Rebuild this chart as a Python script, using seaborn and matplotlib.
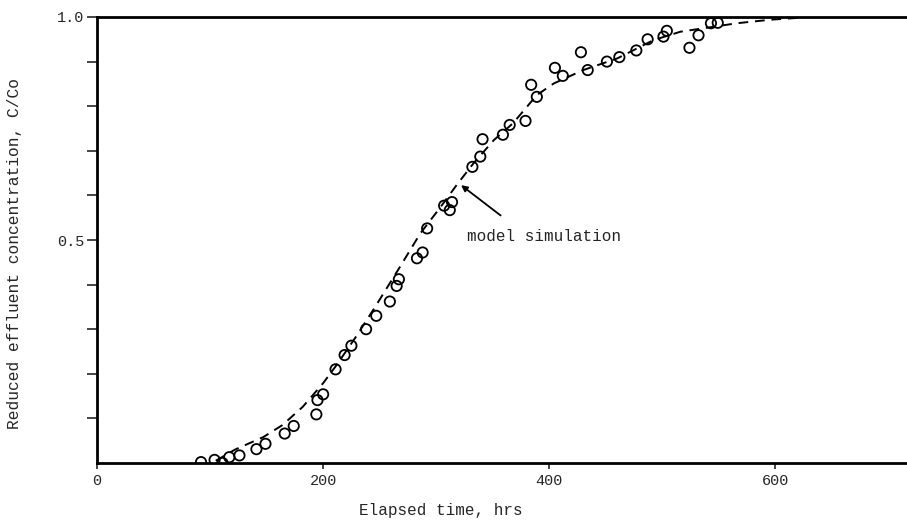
import matplotlib
matplotlib.use("Agg")
import matplotlib.pyplot as plt
import seaborn as sns
import pandas as pd

# observed data (hrs, C/Co)
obs_time = [92, 104, 111, 117, 126, 141, 149, 166, 174, 194, 195, 200,
            211, 219, 225, 238, 247, 259, 265, 267, 283, 288, 292, 307,
            312, 314, 332, 339, 341, 359, 365, 379, 384, 389, 405, 412,
            428, 434, 451, 462, 477, 487, 501, 504, 524, 532, 543, 549]
obs_conc = [0.002, 0.007, 0.0, 0.013, 0.017, 0.031, 0.043, 0.066, 0.083, 0.109, 0.141, 0.154,
            0.21, 0.242, 0.263, 0.30, 0.33, 0.362, 0.397, 0.412, 0.459, 0.472, 0.526, 0.577,
            0.567, 0.585, 0.664, 0.687, 0.726, 0.736, 0.758, 0.767, 0.848, 0.821, 0.886, 0.868,
            0.921, 0.881, 0.90, 0.91, 0.925, 0.95, 0.956, 0.969, 0.931, 0.959, 0.986, 0.987]

# model simulation curve
sim_time = [105, 122, 147, 164, 182, 200, 212, 229, 246, 268, 286, 303, 318,
            333, 351, 368, 389, 404, 430, 460, 492, 516, 537, 566, 596, 620]
sim_conc = [0.005, 0.03, 0.058, 0.085, 0.126, 0.179, 0.22, 0.283, 0.35, 0.44, 0.515, 0.571, 0.623,
            0.672, 0.724, 0.762, 0.825, 0.851, 0.881, 0.907, 0.948, 0.967, 0.975, 0.986, 0.994, 0.998]

x_ticks = [0, 200, 400, 600]
x_tick_labels = ["0", "200", "400", "600"]
y_ticks = [0.5, 1.0]
y_tick_labels = ["0.5", "1.0"]

obs = pd.DataFrame({"t": obs_time, "c": obs_conc})
sim = pd.DataFrame({"t": sim_time, "c": sim_conc})

sns.set_style("ticks")
plt.rcParams["font.family"] = ["Liberation Mono", "DejaVu Sans Mono"]

fig = plt.figure(figsize=(9.07, 5.26), dpi=100)
ax = fig.add_axes([97 / 907, (526 - 463) / 526, 1 - 97 / 907 + 0.002, (463 - 17) / 526])

sns.lineplot(data=sim, x="t", y="c", ax=ax, color="black", linewidth=1.4,
             linestyle=(0, (5, 3.5)), sort=False)
sns.scatterplot(data=obs, x="t", y="c", ax=ax, marker="o", s=55,
                facecolor="none", edgecolor="black", linewidth=1.3, zorder=3)

ax.set_xlim(0, 718)
ax.set_ylim(0, 1.0)
ax.set_xticks(x_ticks)
ax.set_xticklabels(x_tick_labels, fontsize=11)
ax.set_yticks(y_ticks)
ax.set_yticklabels(y_tick_labels, fontsize=11)
ax.set_yticks([0.1, 0.2, 0.3, 0.4, 0.6, 0.7, 0.8, 0.9], minor=True)
ax.tick_params(axis="y", which="both", direction="out", length=7, width=1.2, pad=2)
ax.tick_params(axis="x", which="major", direction="out", length=4, width=1.2, pad=4)

for side in ["left", "bottom", "top"]:
    ax.spines[side].set_linewidth(2.0)
    ax.spines[side].set_color("black")
ax.spines["right"].set_visible(False)

ax.set_xlabel("Elapsed time, hrs", fontsize=11.5)
ax.xaxis.set_label_coords(0.4235, -0.09)
ax.set_ylabel("Reduced effluent concentration, C/Co", fontsize=11.7)
ax.yaxis.set_label_coords(-0.092, 0.469)

ax.annotate("", xy=(322, 0.623), xytext=(357, 0.555),
            arrowprops=dict(arrowstyle="-|>", color="black", lw=1.3,
                            shrinkA=0, shrinkB=0, mutation_scale=9))
ax.text(327, 0.507, "model simulation", fontsize=11.5, va="center", ha="left")

fig.savefig("out.png", dpi=100)
